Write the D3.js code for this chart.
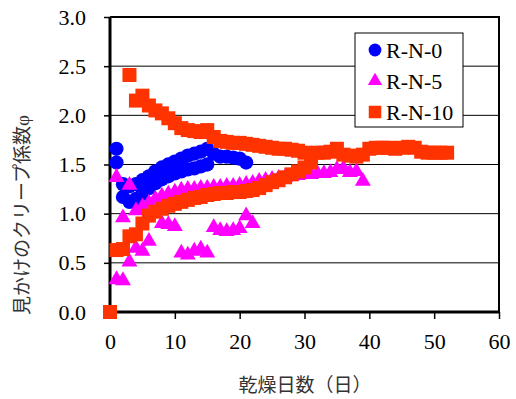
<!DOCTYPE html>
<html>
<head>
<meta charset="utf-8">
<script src="https://cdn.jsdelivr.net/npm/d3@7"></script>
<style>
  body { margin: 0; background: #fff; }
</style>
</head>
<body>
<div id="chart"></div>
<script>
// 乾燥日数 vs 見かけのクリープ係数
const seriesNames = ["R-N-0", "R-N-5", "R-N-10"]
const yTicks = [0, 0.5, 1.0, 1.5, 2.0, 2.5, 3.0]
const xTicks = [0, 10, 20, 30, 40, 50, 60]

const rn0 = [
    [1, 1.66], [1, 1.52], [2, 1.30], [3, 1.28], [4, 1.30], [5, 1.34], [6, 1.38], [7, 1.43],
    [8, 1.47], [9, 1.50], [10, 1.53], [11, 1.56], [12, 1.59], [13, 1.61], [14, 1.63], [15, 1.66],
    [16, 1.61], [17, 1.58], [18, 1.58], [19, 1.57], [20, 1.56], [21, 1.52],
    [2, 1.17], [3, 1.12], [4, 1.15], [5, 1.20], [6, 1.26], [7, 1.31], [8, 1.35], [9, 1.38],
    [10, 1.41], [11, 1.43], [12, 1.45], [13, 1.46], [14, 1.48], [15, 1.50]
]
const rn5 = [
    [1, 1.37], [3, 1.29], [4, 1.03], [5, 1.07], [6, 1.11], [7, 1.15], [8, 1.18], [9, 1.20],
    [10, 1.22], [11, 1.24], [12, 1.25], [13, 1.25], [14, 1.26], [15, 1.26], [16, 1.27], [17, 1.27],
    [18, 1.28], [19, 1.28], [20, 1.29], [21, 1.30], [22, 1.31], [23, 1.33], [24, 1.34], [25, 1.35],
    [26, 1.36], [27, 1.37], [28, 1.38], [29, 1.39], [30, 1.40], [31, 1.40], [32, 1.41], [33, 1.41],
    [34, 1.42], [35, 1.45], [36, 1.46], [37, 1.42], [38, 1.43], [39, 1.33],
    [1, 0.33], [2, 0.32], [2, 0.96], [3, 0.51], [4, 0.65], [5, 0.62], [6, 0.72], [8, 0.90],
    [9, 0.89], [10, 0.87], [11, 0.60], [12, 0.58], [13, 0.62], [14, 0.64], [15, 0.60], [16, 0.86],
    [17, 0.83], [18, 0.82], [19, 0.83], [20, 0.85], [21, 0.98], [22, 0.90]
]
const rn10 = [
    [3, 2.41], [4, 2.15], [5, 2.20], [6, 2.10], [7, 2.05], [8, 2.02], [9, 1.97], [10, 1.92],
    [11, 1.87], [12, 1.85], [13, 1.84], [14, 1.83], [15, 1.85], [16, 1.78], [17, 1.74], [18, 1.73],
    [19, 1.72], [20, 1.72], [21, 1.71], [22, 1.70], [23, 1.69], [24, 1.68], [25, 1.67], [26, 1.66],
    [27, 1.66], [28, 1.65], [29, 1.64], [30, 1.62], [31, 1.61], [32, 1.62], [33, 1.62], [34, 1.63],
    [35, 1.66], [36, 1.60], [37, 1.59], [38, 1.58], [39, 1.60], [40, 1.66], [41, 1.67], [42, 1.67],
    [43, 1.67], [44, 1.66], [45, 1.67], [46, 1.68], [47, 1.67], [48, 1.63], [49, 1.62], [50, 1.62],
    [51, 1.62], [52, 1.62],
    [0, 0.00], [1, 0.63], [2, 0.64], [3, 0.77], [4, 0.79], [5, 0.90], [6, 0.98], [7, 1.02],
    [8, 1.05], [9, 1.08], [10, 1.10], [11, 1.12], [12, 1.14], [13, 1.16], [14, 1.17], [15, 1.19],
    [16, 1.20], [17, 1.21], [18, 1.21], [19, 1.22], [20, 1.22], [21, 1.23], [22, 1.24], [23, 1.26],
    [24, 1.29], [25, 1.32], [26, 1.34], [27, 1.37], [28, 1.40], [29, 1.43], [30, 1.47], [31, 1.52]
]

const W = 516, H = 399
const plot = { left: 110, right: 499, top: 17, bottom: 312 }
const serif = '"Liberation Serif", "Times New Roman", serif'
const jp = '"Noto Sans CJK JP", sans-serif'

const x = d3.scaleLinear([0, 60], [plot.left, plot.right])
const y = d3.scaleLinear([0, 3], [plot.bottom, plot.top])

const series = [
    { name: seriesNames[0], data: rn0, color: "#0000ff", shape: d3.symbolCircle, size: 160 },
    { name: seriesNames[1], data: rn5, color: "#ff00ff", shape: d3.symbolTriangle, size: 110 },
    { name: seriesNames[2], data: rn10, color: "#ff3300", shape: d3.symbolSquare, size: 196 }
]

const svg = d3.select('#chart')
    .append('svg')
    .attr('width', W)
    .attr('height', H)

// gridlines
svg.append("g")
    .selectAll("line")
    .data(yTicks.slice(1, -1))
    .join("line")
    .attr("x1", plot.left).attr("x2", plot.right)
    .attr("y1", d => y(d)).attr("y2", d => y(d))
    .attr("stroke", "#000")
    .attr("stroke-width", 1)

// frame (top / right)
svg.append("path")
    .attr("d", `M${plot.left},${plot.top}H${plot.right}V${plot.bottom}`)
    .attr("fill", "none")
    .attr("stroke", "#000")
    .attr("stroke-width", 2)

// axes
const yAxis = svg.append("g")
    .attr("transform", `translate(${plot.left},0)`)
    .call(d3.axisLeft(y).tickValues(yTicks).tickFormat(d3.format(".1f")).tickSize(6).tickPadding(18))
const xAxis = svg.append("g")
    .attr("transform", `translate(0,${plot.bottom})`)
    .call(d3.axisBottom(x).tickValues(xTicks).tickSize(7).tickPadding(14))

for (const g of [yAxis, xAxis]) {
    g.select(".domain").attr("stroke", "#000").attr("stroke-width", 3)
    g.selectAll(".tick line").attr("stroke", "#000").attr("stroke-width", 1.5)
    g.selectAll(".tick text")
        .attr("fill", "#000")
        .style("font-family", serif)
        .style("font-size", "22px")
}
yAxis.select(".domain").attr("d", `M0,${plot.top}V${plot.bottom}`)
xAxis.select(".domain").attr("d", `M${plot.left},0H${plot.right}`)

// markers
series.forEach(s => {
    svg.append("g")
        .attr("fill", s.color)
        .selectAll("path")
        .data(s.data)
        .join("path")
        .attr("transform", d => `translate(${x(d[0])},${y(d[1])})`)
        .attr("d", d3.symbol(s.shape, s.size))
})

// legend
const legend = svg.append("g").attr("transform", "translate(355,33)")
legend.append("rect")
    .attr("width", 108).attr("height", 94)
    .attr("fill", "#fff").attr("stroke", "#000").attr("stroke-width", 1)
const item = legend.selectAll("g")
    .data(series)
    .join("g")
    .attr("transform", (d, i) => `translate(0,${17 + i * 31})`)
item.append("path")
    .attr("transform", "translate(20,0)")
    .attr("fill", d => d.color)
    .attr("d", d => d3.symbol(d.shape, d.size * 0.8)())
item.append("text")
    .attr("x", 31).attr("dy", "0.35em")
    .style("font-family", serif)
    .style("font-size", "22px")
    .text(d => d.name)

// axis titles
svg.append("text")
    .attr("x", 305).attr("y", 392)
    .attr("text-anchor", "middle")
    .style("font-family", jp)
    .style("font-size", "19px")
    .attr("fill", "#333")
    .text("乾燥日数（日）")

const yTitle = svg.append("text")
    .attr("transform", "translate(22,215) rotate(-90)")
    .attr("text-anchor", "middle")
    .attr("dy", "0.35em")
    .style("font-family", jp)
    .style("font-size", "19px")
    .attr("fill", "#333")
yTitle.append("tspan").text("見かけのクリープ係数")
yTitle.append("tspan").style("font-family", serif).text("φ")
</script>
</body>
</html>
